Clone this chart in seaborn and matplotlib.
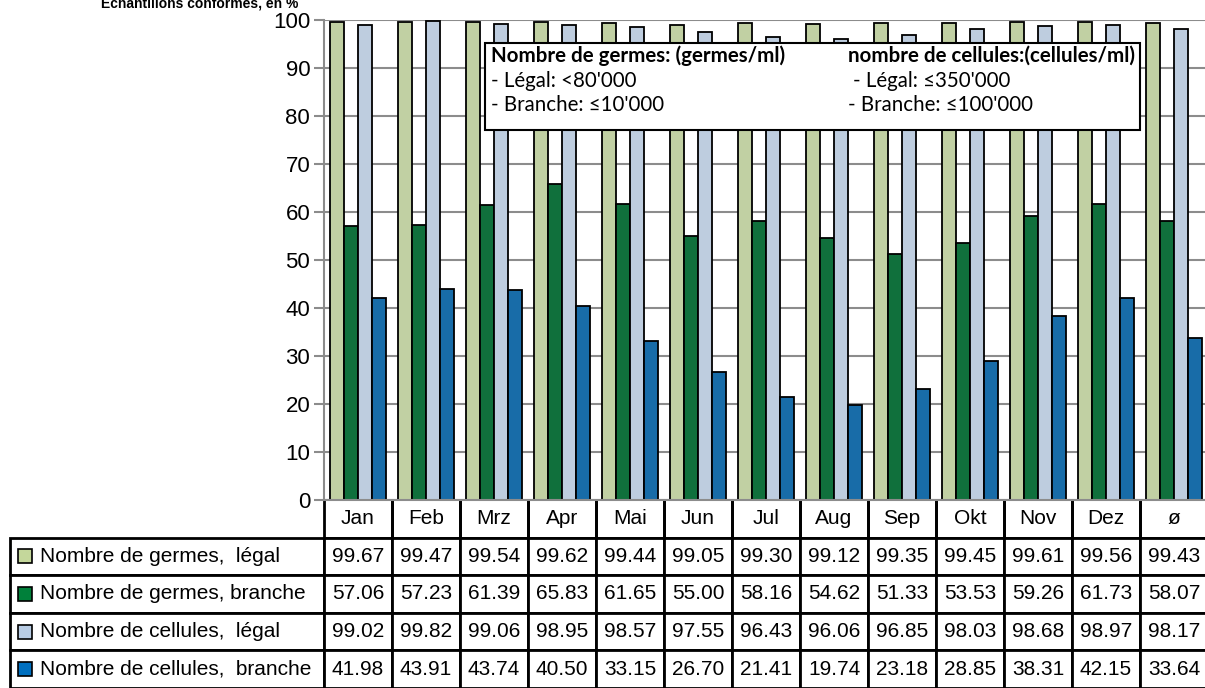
import pandas as pd
import matplotlib.pyplot as plt
import seaborn as sns
from matplotlib.patches import Rectangle

# Données (échantillons conformes, en %)
mois = ['Jan', 'Feb', 'Mrz', 'Apr', 'Mai', 'Jun', 'Jul', 'Aug', 'Sep', 'Okt', 'Nov', 'Dez', 'ø']
germes_legal = [99.67, 99.47, 99.54, 99.62, 99.44, 99.05, 99.30, 99.12, 99.35, 99.45, 99.61, 99.56, 99.43]
germes_branche = [57.06, 57.23, 61.39, 65.83, 61.65, 55.00, 58.16, 54.62, 51.33, 53.53, 59.26, 61.73, 58.07]
cellules_legal = [99.02, 99.82, 99.06, 98.95, 98.57, 97.55, 96.43, 96.06, 96.85, 98.03, 98.68, 98.97, 98.17]
cellules_branche = [41.98, 43.91, 43.74, 40.50, 33.15, 26.70, 21.41, 19.74, 23.18, 28.85, 38.31, 42.15, 33.64]

series = ['Nombre de germes,  légal', 'Nombre de germes, branche',
          'Nombre de cellules,  légal', 'Nombre de cellules,  branche']
couleurs = ['#C4D79B', '#00803A', '#B8CCE4', '#0070C0']
valeurs = [germes_legal, germes_branche, cellules_legal, cellules_branche]

plt.rcParams['font.family'] = ['Liberation Sans', 'DejaVu Sans']

# Format long pour seaborn
df = pd.DataFrame({
    'mois': mois * 4,
    'serie': [s for s in series for _ in mois],
    'valeur': [v for vals in valeurs for v in vals],
})

fig = plt.figure(figsize=(12.05, 6.88), dpi=100)
ax = fig.add_axes([0.2689, 0.2733, 0.7336, 0.6977])

sns.barplot(data=df, x='mois', y='valeur', hue='serie', order=mois, hue_order=series,
            palette=couleurs, width=0.83, gap=0, edgecolor='black', linewidth=1.3,
            legend=False, ax=ax)

ax.set_xlim(-0.5, len(mois) - 0.5)
ax.set_ylim(0, 100)
ax.set_yticks(range(0, 101, 10))
ax.tick_params(axis='y', labelsize=16, length=7, width=1.5, color='#8c8c8c', pad=3)
ax.set_xticks([])
ax.set_xlabel('')
ax.set_ylabel('')
ax.set_axisbelow(True)
ax.yaxis.grid(True, color='#8c8c8c', linewidth=1.5)
for s in ['top', 'right']:
    ax.spines[s].set_visible(False)
ax.spines['left'].set_color('#8c8c8c')
ax.spines['left'].set_linewidth(1.5)
ax.spines['bottom'].set_color('#8c8c8c')
ax.spines['bottom'].set_linewidth(1.5)

# Titre (coupé en haut, comme dans l'original)
fig.text(0.166, 1 - 8 / 688, 'Echantillons conformes, en %', fontsize=10, fontweight='bold',
         ha='center', va='baseline')

# Encadré des limites
ax.add_patch(Rectangle((0.182, 0.771), 0.741, 0.181, transform=ax.transAxes,
                       facecolor='white', edgecolor='black', linewidth=1.5, zorder=5))
boite = dict(transform=ax.transAxes, fontsize=14.8, family=['Lato', 'DejaVu Sans'], zorder=6, va='center')
ax.text(0.189, 0.925, 'Nombre de germes: (germes/ml)', fontweight='bold', **boite)
ax.text(0.189, 0.873, '- Légal: <80\'000', **boite)
ax.text(0.189, 0.822, '- Branche: \u226410\'000', **boite)
ax.text(0.593, 0.925, 'nombre de cellules:(cellules/ml)', fontweight='bold', **boite)
ax.text(0.598, 0.873, '- Légal: \u2264350\'000', **boite)
ax.text(0.593, 0.822, '- Branche: \u2264100\'000', **boite)

# Tableau de données
lignes = [[''] + mois]
for s, vals in zip(series, valeurs):
    lignes.append([s] + ['%.2f' % v for v in vals])

x0 = (10 - 324) / 884
bw = (1208 - 10) / 884
bh = 188 / 480
larg = [314] + [68] * len(mois)
tab = ax.table(cellText=lignes, colWidths=[w / sum(larg) for w in larg],
               cellLoc='center', bbox=[x0, -bh, bw, bh])
tab.auto_set_font_size(False)
tab.set_fontsize(15)
for (r, c), cell in tab.get_celld().items():
    cell.set_linewidth(2)
    cell.set_edgecolor('black')
    cell.set_clip_on(False)
    if r == 0:
        cell.visible_edges = 'open' if c == 0 else 'BRL'
    if c == 0 and r > 0:
        cell._loc = 'left'
        cell.get_text().set_horizontalalignment('left')
        cell.PAD = 0.095

# Carrés de légende dans le tableau
h = bh / 5
for i, coul in enumerate(couleurs):
    yc = -h * (i + 1.5)
    ax.add_patch(Rectangle(((18 - 324) / 884, yc - 7 / 480), 14 / 884, 14 / 480,
                           transform=ax.transAxes, facecolor=coul, edgecolor='black',
                           linewidth=1.2, clip_on=False, zorder=6))

fig.savefig('out.png', dpi=100)
